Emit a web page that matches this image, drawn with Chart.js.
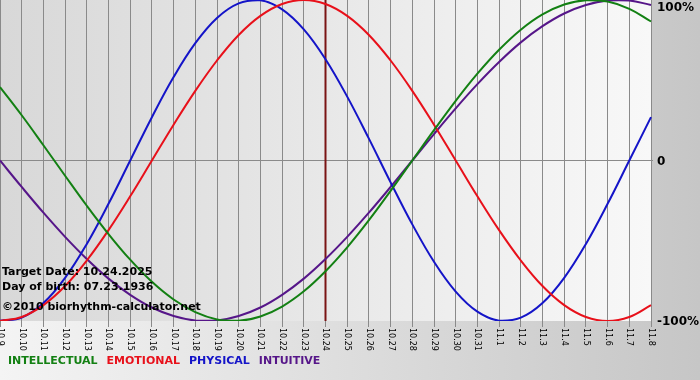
<!DOCTYPE html>
<html>
<head>
<meta charset="utf-8">
<title>Biorhythm</title>
<script src="https://cdn.jsdelivr.net/npm/chart.js@4.4.1/dist/chart.umd.min.js"></script>
<style>
  html, body { margin: 0; padding: 0; }
  #wrap { width: 700px; height: 380px; position: relative; }
</style>
</head>
<body>
<div id="wrap"><canvas id="bio-chart"></canvas></div>
<script>
// Days shown on the x axis (month.day)
const dayLabels = ['10.9','10.10','10.11','10.12','10.13','10.14','10.15','10.16','10.17','10.18',
    '10.19','10.20','10.21','10.22','10.23','10.24','10.25','10.26','10.27','10.28',
    '10.29','10.30','10.31','11.1','11.2','11.3','11.4','11.5','11.6','11.7','11.8'];

// Cycle values in percent, one per day
const intellectual = [45.8, 28.2, 9.5, -9.5, -28.2, -45.8, -61.8, -75.6, -86.6, -94.5,
    -99.0, -99.9, -97.2, -91.0, -81.5, -69.0, -54.1, -37.2, -18.9, 0,
    18.9, 37.2, 54.1, 69.0, 81.5, 91.0, 97.2, 99.9, 99.0, 94.5, 86.6];
const emotional = [-100, -97.5, -90.1, -78.2, -62.3, -43.4, -22.3, 0, 22.3, 43.4,
    62.3, 78.2, 90.1, 97.5, 100, 97.5, 90.1, 78.2, 62.3, 43.4,
    22.3, 0, -22.3, -43.4, -62.3, -78.2, -90.1, -97.5, -100, -97.5, -90.1];
const physical = [-99.8, -97.9, -88.8, -73.1, -52.0, -27.0, 0, 27.0, 52.0, 73.1,
    88.8, 97.9, 99.8, 94.2, 81.7, 63.1, 39.8, 13.6, -13.6, -39.8,
    -63.1, -81.7, -94.2, -99.8, -97.9, -88.8, -73.1, -52.0, -27.0, 0, 27.0];
const intuitive = [0, -16.5, -32.5, -47.6, -61.4, -73.6, -83.7, -91.6, -96.9, -99.7,
    -99.7, -96.9, -91.6, -83.7, -73.6, -61.4, -47.6, -32.5, -16.5, 0,
    16.5, 32.5, 47.6, 61.4, 73.6, 83.7, 91.6, 96.9, 99.7, 99.7, 96.9];

const yTickValues = [100, 0, -100];
const yTickLabels = ['100%', '0', '-100%'];
const targetDay = '10.24';
const infoLines = ['Target Date: 10.24.2025', 'Day of birth: 07.23.1936', '\u00a92010 biorhythm-calculator.net'];

const seriesNames = ['INTELLECTUAL', 'EMOTIONAL', 'PHYSICAL', 'INTUITIVE'];
const seriesColors = ['#138013', '#e8101a', '#1414c8', '#561689'];

const FONT = "'DejaVu Sans', Verdana, sans-serif";

// Backgrounds, target marker, axis labels, info text and legend
const decorPlugin = {
    id: 'decor',
    beforeDraw(chart) {
        const ctx = chart.ctx;
        const area = chart.chartArea;
        ctx.save();
        let g = ctx.createLinearGradient(0, 0, chart.width, 0);
        g.addColorStop(0, '#f4f4f4');
        g.addColorStop(1, '#c6c6c6');
        ctx.fillStyle = g;
        ctx.fillRect(0, 0, chart.width, chart.height);
        g = ctx.createLinearGradient(area.left, 0, area.right, 0);
        g.addColorStop(0, '#d8d8d8');
        g.addColorStop(1, '#f8f8f8');
        ctx.fillStyle = g;
        ctx.fillRect(area.left, area.top, area.right - area.left, area.bottom - area.top);
        ctx.restore();
    },
    beforeDatasetsDraw(chart) {
        const ctx = chart.ctx;
        const area = chart.chartArea;
        const x = chart.scales.x.getPixelForValue(dayLabels.indexOf(targetDay));
        ctx.save();
        ctx.strokeStyle = '#7a1414';
        ctx.lineWidth = 2;
        ctx.beginPath();
        ctx.moveTo(x, area.top);
        ctx.lineTo(x, area.bottom);
        ctx.stroke();
        ctx.restore();
    },
    afterDraw(chart) {
        const ctx = chart.ctx;
        const area = chart.chartArea;
        const xs = chart.scales.x;
        const ys = chart.scales.y;
        ctx.save();
        ctx.fillStyle = '#000';

        // x labels, rotated clockwise
        ctx.font = '8px ' + FONT;
        ctx.textAlign = 'left';
        ctx.textBaseline = 'middle';
        dayLabels.forEach((lab, i) => {
            const x = xs.getPixelForValue(i);
            ctx.save();
            ctx.translate(x, area.bottom + 7);
            ctx.rotate(Math.PI / 2);
            ctx.fillText(lab, 0, 0);
            ctx.restore();
        });

        // y labels
        ctx.font = 'bold 12px ' + FONT;
        yTickValues.forEach((v, i) => {
            let y = ys.getPixelForValue(v) + 1;
            if (y < area.top + 8) y = area.top + 8;
            ctx.fillText(yTickLabels[i], area.right + 6, y);
        });

        // info text
        ctx.font = 'bold 11px ' + FONT;
        ctx.fillText(infoLines[0], 2, 272);
        ctx.fillText(infoLines[1], 2, 287);
        ctx.fillText(infoLines[2], 2, 307);

        // legend
        let lx = 8;
        seriesNames.forEach((name, i) => {
            ctx.fillStyle = seriesColors[i];
            ctx.fillText(name, lx, 361);
            lx += ctx.measureText(name).width + 9;
        });
        ctx.restore();
    }
};

const ctx = document.getElementById('bio-chart');

new Chart(ctx, {
    type: 'line',
    data: {
        labels: dayLabels,
        datasets: [intellectual, emotional, physical, intuitive].map((vals, i) => ({
            label: seriesNames[i],
            data: vals,
            borderColor: seriesColors[i],
            borderWidth: 2,
            pointRadius: 0,
            fill: false,
            tension: 0.4
        }))
    },
    options: {
        responsive: true,
        maintainAspectRatio: false,
        animation: false,
        layout: {
            padding: { left: 0, right: 0, top: 0, bottom: 53 }
        },
        plugins: {
            legend: { display: false },
            tooltip: { enabled: false }
        },
        scales: {
            x: {
                ticks: { display: false },
                grid: {
                    color: '#8a8a8a',
                    lineWidth: 1,
                    tickLength: 6
                },
                border: { display: false }
            },
            y: {
                position: 'right',
                min: -100,
                max: 100,
                ticks: { display: false, stepSize: 100 },
                grid: {
                    color: c => (c.tick && c.tick.value === 0) ? '#8a8a8a' : 'rgba(0,0,0,0)',
                    tickLength: 2
                },
                border: { display: false },
                afterFit(scale) {
                    scale.width = 49;
                }
            }
        }
    },
    plugins: [decorPlugin]
});
</script>
</body>
</html>
